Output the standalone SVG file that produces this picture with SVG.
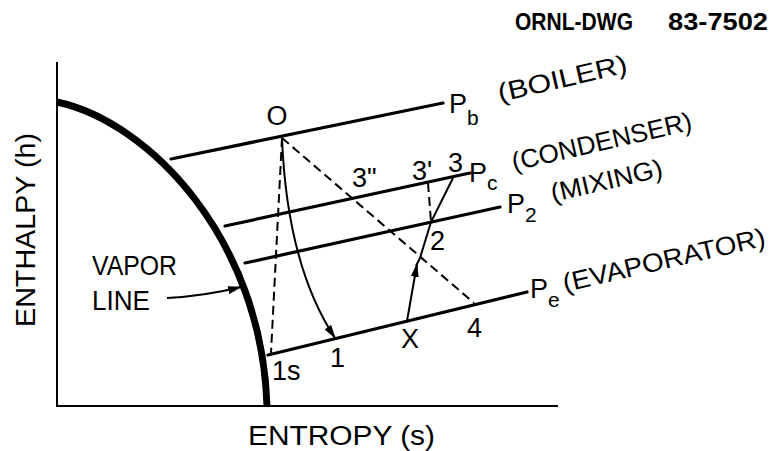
<svg xmlns="http://www.w3.org/2000/svg" width="775" height="451" viewBox="0 0 775 451">
<defs>
<style>
text{font-family:"Liberation Sans",Arial,sans-serif;fill:#000}
.lbl{font-size:26px}
.big{font-size:27px}
.sub{font-size:21px}
.iso{stroke:#000;stroke-width:3.2;fill:none;stroke-linecap:round}
.thin{stroke:#000;stroke-width:2;fill:none}
.dash{stroke:#000;stroke-width:2;fill:none;stroke-dasharray:9,5}
</style>
<marker id="ah" viewBox="0 0 14 8" refX="13" refY="4" markerWidth="14" markerHeight="8" markerUnits="userSpaceOnUse" orient="auto">
<path d="M0,0 L14,4 L0,8 z" fill="#000"/>
</marker>
</defs>
<rect width="775" height="451" fill="#fff"/>
<g id="title">
<text x="515" y="30" font-size="23" font-weight="bold" textLength="118" lengthAdjust="spacingAndGlyphs">ORNL-DWG</text>
<text x="668" y="30" font-size="23" font-weight="bold" textLength="100" lengthAdjust="spacingAndGlyphs">83-7502</text>
</g>
<g id="axes">
<path d="M57,62 L57,406 L558,406" class="thin"/>
<text class="big" transform="translate(35,230) rotate(-90)" text-anchor="middle" textLength="194" lengthAdjust="spacingAndGlyphs">ENTHALPY (h)</text>
<text class="big" x="248" y="445" textLength="187" lengthAdjust="spacingAndGlyphs">ENTROPY (s)</text>
</g>
<g id="vapor-line">
<path d="M57,102 C150,122 262,240 267,406" stroke="#000" stroke-width="7" fill="none"/>
<text class="big" x="92" y="275" textLength="85" lengthAdjust="spacingAndGlyphs">VAPOR</text>
<text class="big" x="92" y="310" textLength="58" lengthAdjust="spacingAndGlyphs">LINE</text>
</g>
<g id="isobar-boiler">
<line x1="171" y1="159" x2="443" y2="103" class="iso"/>
<text class="big" x="449" y="113">P<tspan class="sub" dy="12">b</tspan></text>
<text class="lbl" transform="translate(500,102) rotate(-13)" textLength="132" lengthAdjust="spacingAndGlyphs">(BOILER)</text>
</g>
<g id="isobar-condenser">
<line x1="225" y1="226" x2="470" y2="173" class="iso"/>
<text class="big" x="469" y="182">P<tspan class="sub" dy="8">c</tspan></text>
<text class="lbl" transform="translate(514,171) rotate(-13)" textLength="184" lengthAdjust="spacingAndGlyphs">(CONDENSER)</text>
</g>
<g id="isobar-mixing">
<line x1="245" y1="263" x2="500" y2="207" class="iso"/>
<text class="big" x="507" y="213">P<tspan class="sub" dy="9">2</tspan></text>
<text class="lbl" transform="translate(553,202) rotate(-13)" textLength="114" lengthAdjust="spacingAndGlyphs">(MIXING)</text>
</g>
<g id="isobar-evaporator">
<line x1="268" y1="355" x2="527" y2="292" class="iso"/>
<text class="big" x="530" y="298">P<tspan class="sub" dy="9">e</tspan></text>
<text class="lbl" transform="translate(565,292) rotate(-13)" textLength="207" lengthAdjust="spacingAndGlyphs">(EVAPORATOR)</text>
</g>
<g id="connectors">
<path d="M167,298 Q205,296 241,287" class="thin" marker-end="url(#ah)"/>
<line x1="282" y1="138" x2="271" y2="353" class="dash"/>
<line x1="282" y1="138" x2="474" y2="303" class="dash"/>
<line x1="428" y1="183" x2="431" y2="222" class="dash" stroke-dasharray="6,4"/>
<path d="M282,138 Q287,265 335,338" class="thin" marker-end="url(#ah)"/>
<line x1="407" y1="321" x2="417" y2="264" class="thin" marker-end="url(#ah)"/>
<polyline points="416,266 420,258 431,222 453,178" class="thin"/>
</g>
<g id="points">
<text class="big" x="277" y="125" text-anchor="middle">O</text>
<text class="big" x="352" y="187">3"</text>
<text class="big" x="412" y="180">3'</text>
<text class="big" x="448" y="172">3</text>
<text class="big" x="430" y="250">2</text>
<text class="big" x="401" y="348">X</text>
<text class="big" x="467" y="337">4</text>
<text class="big" x="330" y="367">1</text>
<text class="big" x="272" y="380">1s</text>
</g>
</svg>
